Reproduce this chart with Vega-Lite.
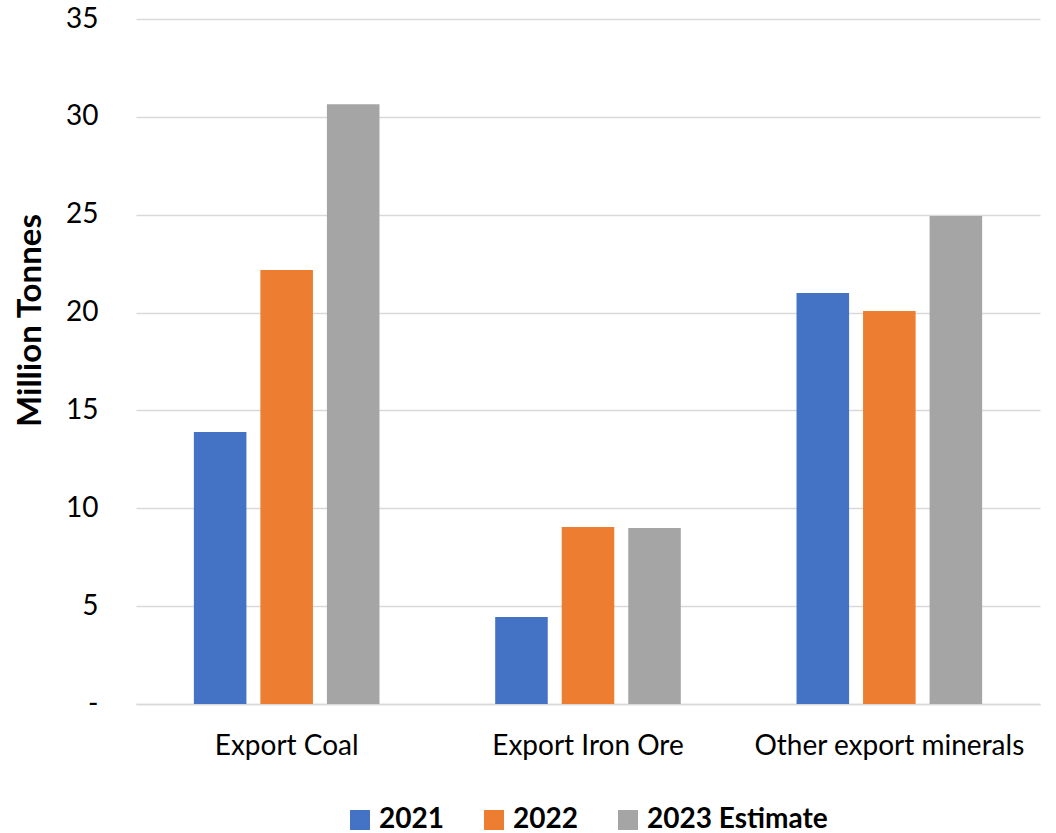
{
  "$schema": "https://vega.github.io/schema/vega-lite/v6.json",
  "width": 904,
  "height": 685,
  "autosize": {"type": "none"},
  "padding": {"left": 136, "top": 19, "right": 16, "bottom": 129},
  "background": "white",
  "config": {
    "font": "Lato",
    "view": {"stroke": null}
  },
  "data": {
    "values": [
      {"category": "Export Coal", "year": "2021", "value": 13.9},
      {"category": "Export Coal", "year": "2022", "value": 22.18},
      {"category": "Export Coal", "year": "2023 Estimate", "value": 30.65},
      {"category": "Export Iron Ore", "year": "2021", "value": 4.45},
      {"category": "Export Iron Ore", "year": "2022", "value": 9.04},
      {"category": "Export Iron Ore", "year": "2023 Estimate", "value": 8.99},
      {"category": "Other export minerals", "year": "2021", "value": 21.0},
      {"category": "Other export minerals", "year": "2022", "value": 20.08},
      {"category": "Other export minerals", "year": "2023 Estimate", "value": 24.94}
    ]
  },
  "mark": {"type": "bar"},
  "encoding": {
    "x": {
      "field": "category",
      "type": "nominal",
      "sort": null,
      "scale": {"paddingInner": 0.384, "paddingOuter": 0.192},
      "axis": {
        "title": null,
        "labelAngle": 0,
        "labelFontSize": 28,
        "labelLimit": 0,
        "labelColor": "#000000",
        "labelPadding": 28,
        "ticks": false,
        "domain": true,
        "domainColor": "#D9D9D9",
        "domainWidth": 1.5
      }
    },
    "xOffset": {
      "field": "year",
      "type": "nominal",
      "sort": null,
      "scale": {"paddingInner": 0.21, "paddingOuter": 0}
    },
    "y": {
      "field": "value",
      "type": "quantitative",
      "scale": {"domain": [0, 35], "nice": false},
      "axis": {
        "title": "Million Tonnes",
        "titleFontSize": 33,
        "titleFontWeight": "bold",
        "titleColor": "#000000",
        "titlePadding": 18,
        "titleY": 301,
        "values": [0, 5, 10, 15, 20, 25, 30, 35],
        "labelExpr": "datum.value == 0 ? '-\u00a0\u00a0\u00a0' : datum.label",
        "labelFontSize": 28,
        "labelColor": "#000000",
        "labelPadding": 38,
        "ticks": false,
        "domain": false,
        "grid": true,
        "gridColor": "#D9D9D9",
        "gridWidth": 1.5
      }
    },
    "color": {
      "field": "year",
      "type": "nominal",
      "sort": null,
      "scale": {
        "domain": ["2021", "2022", "2023 Estimate"],
        "range": ["#4472C4", "#ED7D31", "#A5A5A5"]
      },
      "legend": {
        "title": null,
        "orient": "none",
        "direction": "horizontal",
        "legendX": 210,
        "legendY": 787,
        "symbolType": "square",
        "symbolSize": 400,
        "symbolStrokeWidth": 0,
        "labelFontSize": 28,
        "labelFontWeight": "bold",
        "labelLimit": 0,
        "labelColor": "#000000",
        "labelOffset": 5,
        "columnPadding": 36
      }
    }
  }
}
